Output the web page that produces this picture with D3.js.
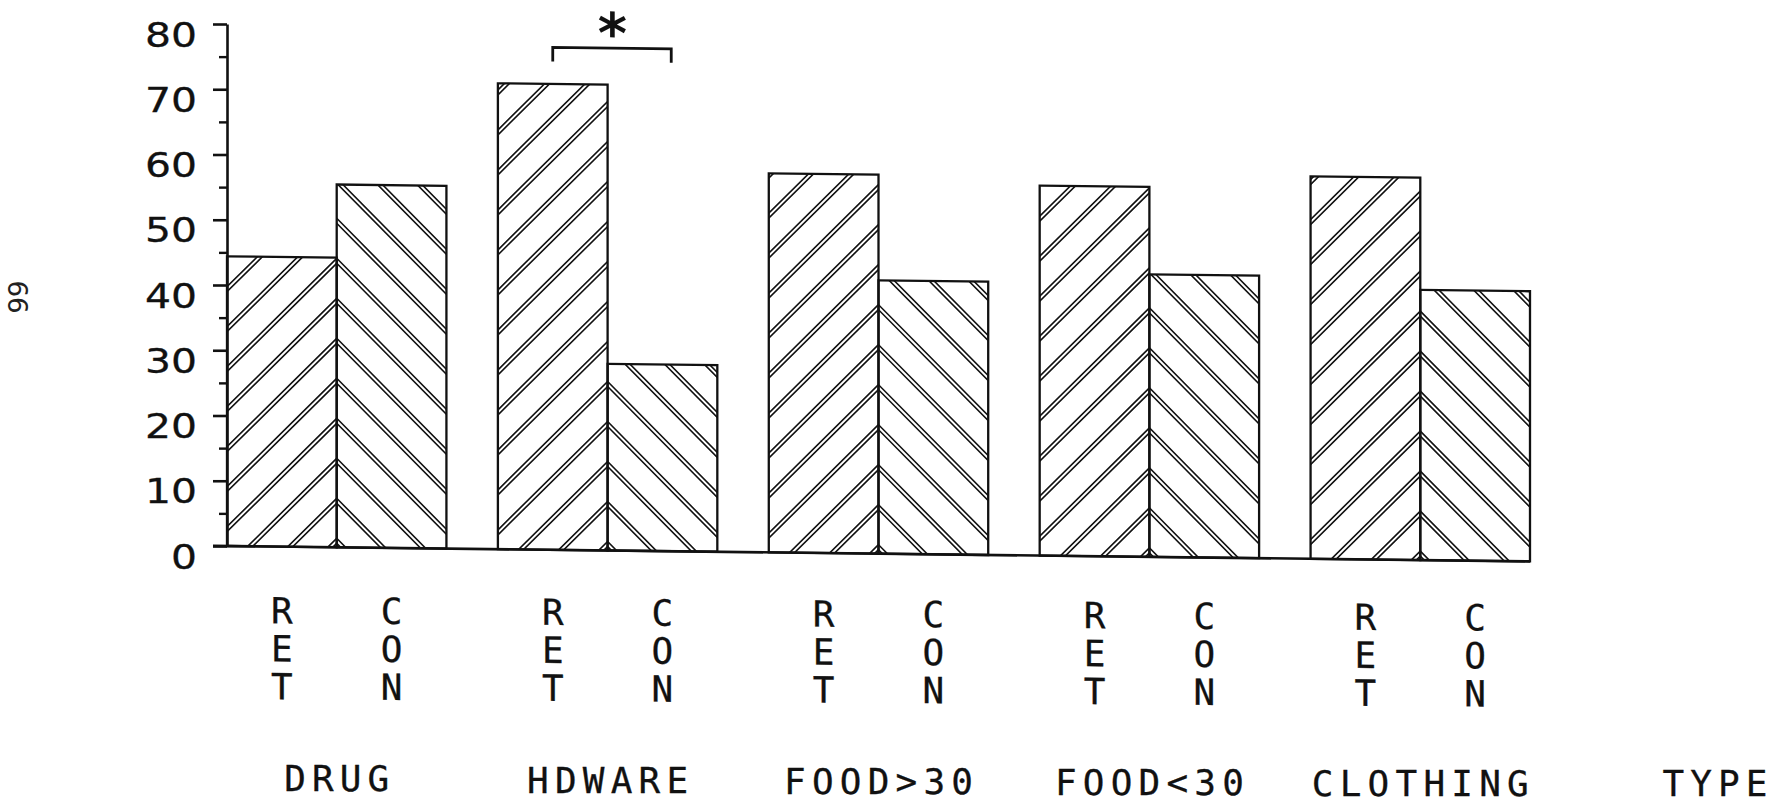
<!DOCTYPE html>
<html>
<head>
<meta charset="utf-8">
<script src="https://cdn.jsdelivr.net/npm/d3@7"></script>
<style>
  html, body { margin: 0; padding: 0; background: #fff; }
  svg { display: block; }
</style>
</head>
<body>
<svg id="chart" width="1774" height="804"></svg>
<script>
// ---- data -------------------------------------------------------------
const groups     = ["DRUG", "HDWARE", "FOOD>30", "FOOD<30", "CLOTHING"];
const seriesKeys = ["RET", "CON"];
const retValues  = [44.4, 71.4, 58.1, 56.7, 58.6];
const conValues  = [55.6, 28.6, 41.9, 43.3, 41.4];
const yTicks     = [0, 10, 20, 30, 40, 50, 60, 70, 80];
const yMinor     = [5, 15, 25, 35, 45, 55, 65, 75];
const axisTitle  = "TYPE";
const sigGroup   = "HDWARE";
const sigMark    = "*";
const pageNumber = "66";

// ---- layout -----------------------------------------------------------
const W = 1774, H = 804;
const axisX = 227;
const ink = "#111";

const svg = d3.select("#chart");
svg.append("rect").attr("width", W).attr("height", H).attr("fill", "#fff");
const defs = svg.append("defs");

const y  = d3.scaleLinear().domain([0, 80]).range([546, 24]);
const x0 = d3.scaleBand().domain(groups).range([axisX, 1530]).paddingInner(0.19).paddingOuter(0);
const x1 = d3.scaleBand().domain(seriesKeys).range([0, x0.bandwidth()]);

// the plotter sheet runs slightly downhill to the right
const slope = 0.0118;
const skewDeg = Math.atan(slope) * 180 / Math.PI;
const plot = svg.append("g")
  .attr("transform", `translate(${axisX},0) skewY(${skewDeg}) translate(${-axisX},0)`);

const rows = [];
groups.forEach((g, i) => {
  seriesKeys.forEach((k, j) => {
    const v = j === 0 ? retValues[i] : conValues[i];
    rows.push({ group: g, key: k, value: v, idx: rows.length });
  });
});
rows.forEach(d => {
  d.x = x0(d.group) + x1(d.key);
  d.w = x1.bandwidth();
  d.top = y(d.value);
  d.base = y(0);
  d.xb = x0(d.group) + x1.bandwidth();   // RET / CON seam of the group
});

// clip regions for the hatching
defs.selectAll("clipPath").data(rows).join("clipPath")
  .attr("id", d => "bar-clip-" + d.idx)
  .append("rect")
  .attr("x", d => d.x).attr("y", d => d.top)
  .attr("width", d => d.w).attr("height", d => d.base - d.top);

// double-line diagonal hatching, forming chevrons at each seam
const STEP = 40, OFF = 9, PAIR = 5;
function hatchPath(d) {
  const L = d.w + 10;
  const dir = d.key === "RET" ? -1 : 1;
  const p = d3.path();
  const kMax = Math.ceil((d.base - OFF - d.top + L) / STEP) + 1;
  for (let k = 0; k <= kMax; k++) {
    const ya = d.base - OFF - k * STEP;
    [ya, ya + PAIR].forEach(yy => {
      p.moveTo(d.xb, yy);
      p.lineTo(d.xb + dir * L, yy + L);
    });
  }
  return p.toString();
}

plot.append("g").selectAll("path").data(rows).join("path")
  .attr("clip-path", d => `url(#bar-clip-${d.idx})`)
  .attr("d", hatchPath)
  .attr("fill", "none").attr("stroke", ink).attr("stroke-width", 1.6);

// bar outlines
plot.append("g").selectAll("rect").data(rows).join("rect")
  .attr("x", d => d.x).attr("y", d => d.top)
  .attr("width", d => d.w).attr("height", d => d.base - d.top)
  .attr("fill", "none").attr("stroke", ink).attr("stroke-width", 2.3);

// zero line
plot.append("line")
  .attr("x1", axisX - 14).attr("x2", x0(groups[groups.length - 1]) + x0.bandwidth())
  .attr("y1", y(0)).attr("y2", y(0))
  .attr("stroke", ink).attr("stroke-width", 2.6);

// significance bracket over the hardware pair
const sx1 = x0(sigGroup) + x1("RET") + x1.bandwidth() / 2;
const sx2 = x0(sigGroup) + x1("CON") + x1.bandwidth() * 0.58;
const sy = y(77);
plot.append("path")
  .attr("d", `M${sx1},${sy + 14}V${sy}H${sx2}V${sy + 14}`)
  .attr("fill", "none").attr("stroke", ink).attr("stroke-width", 2.8);
plot.append("text")
  .attr("x", (sx1 + sx2) / 2 + 0.5).attr("y", y(81) + 31)
  .attr("text-anchor", "middle")
  .attr("font-family", "DejaVu Sans").attr("font-weight", "bold")
  .attr("font-size", 56).attr("fill", ink)
  .text(sigMark);

// series letters, stacked vertically under each bar
const letterSlope = 0.006;
const letters = plot.append("g")
  .attr("font-family", "DejaVu Sans Mono").attr("font-size", 36).attr("fill", ink)
  .attr("stroke", ink).attr("stroke-width", 0.3)
  .attr("text-anchor", "middle");
rows.forEach(d => {
  const cx = d.x + d.w / 2;
  const shift = (letterSlope - slope) * (cx - axisX);
  d.key.split("").forEach((ch, i) => {
    letters.append("text")
      .attr("x", cx).attr("y", 623 + i * 38 + shift)
      .text(ch);
  });
});

// category labels
const labelSlope = 0.004;
const mono = 28;
svg.append("g").selectAll("text").data(groups).join("text")
  .attr("x", g => x0(g) + x0.bandwidth() / 2)
  .attr("y", g => 791 + labelSlope * (x0(g) + x0.bandwidth() / 2 - axisX))
  .attr("text-anchor", "middle")
  .attr("font-family", "DejaVu Sans Mono").attr("font-size", 36).attr("fill", ink)
  .attr("stroke", ink).attr("stroke-width", 0.3)
  .attr("textLength", g => (g.length - 1) * mono + 21)
  .attr("lengthAdjust", "spacing")
  .text(g => g);

svg.append("text")
  .attr("x", 1715).attr("y", 796)
  .attr("text-anchor", "middle")
  .attr("font-family", "DejaVu Sans Mono").attr("font-size", 36).attr("fill", ink)
  .attr("stroke", ink).attr("stroke-width", 0.3)
  .attr("textLength", (axisTitle.length - 1) * mono + 21)
  .attr("lengthAdjust", "spacing")
  .text(axisTitle);

// y axis: major ticks with labels, minor ticks between
const yAxis = svg.append("g").attr("transform", `translate(${axisX},0)`)
  .call(d3.axisLeft(y).tickValues(yTicks).tickSize(14).tickSizeOuter(0));
yAxis.select(".domain").attr("stroke", ink).attr("stroke-width", 2.6);
yAxis.selectAll(".tick line").attr("stroke", ink).attr("stroke-width", 2.6);
yAxis.selectAll(".tick text")
  .attr("x", -30).attr("dy", null).attr("y", 22)
  .attr("fill", ink)
  .attr("stroke", ink).attr("stroke-width", 0.3)
  .attr("font-family", "DejaVu Sans").attr("font-size", 34)
  .attr("textLength", d => String(d).length * 26)
  .attr("lengthAdjust", "spacingAndGlyphs");

const yMinorAxis = svg.append("g").attr("transform", `translate(${axisX},0)`)
  .call(d3.axisLeft(y).tickValues(yMinor).tickSize(8).tickFormat(""));
yMinorAxis.select(".domain").remove();
yMinorAxis.selectAll(".tick line").attr("stroke", ink).attr("stroke-width", 2.4);

// page number in the margin
svg.append("text")
  .attr("transform", "translate(17,297) rotate(90)")
  .attr("text-anchor", "middle").attr("dominant-baseline", "central")
  .attr("font-family", "DejaVu Sans").attr("font-size", 26).attr("fill", "#222")
  .text(pageNumber);
</script>
</body>
</html>
